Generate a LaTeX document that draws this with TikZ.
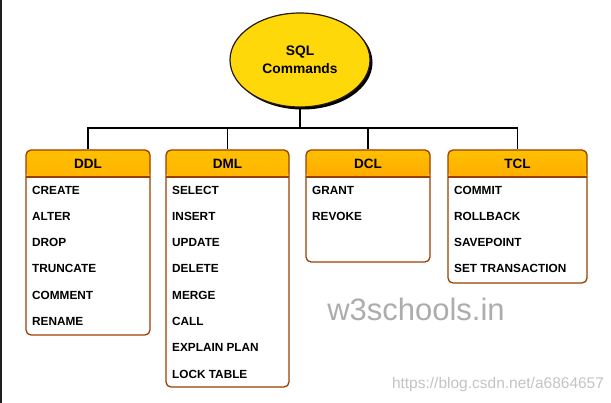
\documentclass[tikz,border=0pt]{standalone}
\usepackage{fontspec}
\setmainfont{Liberation Sans}
\usetikzlibrary{shapes.geometric,shadows}
\definecolor{boxedge}{HTML}{9A3F00}
\definecolor{hdrtop}{HTML}{FFC000}
\definecolor{hdrbot}{HTML}{FF6400}
\definecolor{ellfill}{HTML}{FFD80A}
\definecolor{wmark}{HTML}{ADADAD}
\definecolor{urlgray}{HTML}{C4C4C4}
\tikzset{
  cmdbox/.style={draw=boxedge, line width=1.3pt, rounded corners=5pt, fill=white,
    inner sep=0pt,
    path picture={\shade[top color=hdrtop, bottom color=hdrbot]
      (path picture bounding box.north west) rectangle
      ([yshift=-27pt]path picture bounding box.north east);
      \draw[boxedge, line width=1.2pt]
      ([yshift=-27pt]path picture bounding box.north west) --
      ([yshift=-27pt]path picture bounding box.north east);}},
  hdr/.style={font=\bfseries\fontsize{13.5}{15}\selectfont, inner sep=0pt},
  item/.style={font=\bfseries\fontsize{11.8}{13}\selectfont, anchor=west, inner sep=0pt},
  conn/.style={line width=1.6pt, black}
}
\begin{document}
\begin{tikzpicture}[x=1pt,y=-1pt]
\useasboundingbox (0,0) rectangle (611,403);
\fill[white] (0,0) rectangle (611,403);
\fill[black!88] (0,0) rectangle (2,403);

% root ellipse
\node[ellipse, draw=black!80!brown, line width=1.2pt, fill=ellfill,
  minimum width=140pt, minimum height=94pt, inner sep=0pt,
  drop shadow={shadow xshift=2.5pt, shadow yshift=-2.5pt, fill=black, opacity=1},
  align=center, font=\bfseries\fontsize{13.8}{18}\selectfont] (sql) at (300,60) {SQL\\Commands};

% boxes
\node[cmdbox, minimum width=124pt, minimum height=185pt] (ddl) at (88,242.5) {};
\node[cmdbox, minimum width=123pt, minimum height=237pt] (dml) at (227.5,268.5) {};
\node[cmdbox, minimum width=124pt, minimum height=112pt] (dcl) at (368,206) {};
\node[cmdbox, minimum width=139pt, minimum height=133pt] (tcl) at (517.5,216.5) {};

% headers
\node[hdr] (ddlh) at (88,164) {DDL};
\node[hdr] (dmlh) at (227.5,164) {DML};
\node[hdr] (dclh) at (368,164) {DCL};
\node[hdr] (tclh) at (517.5,164) {TCL};

% items
\foreach \t [count=\i from 0] in {CREATE,ALTER,DROP,TRUNCATE,COMMENT,RENAME}
  \node[item] (ddl\i) at (32,{190+26.3*\i}) {\t};
\foreach \t [count=\i from 0] in {SELECT,INSERT,UPDATE,DELETE,MERGE,CALL,EXPLAIN PLAN,LOCK TABLE}
  \node[item] (dml\i) at (172,{190+26.3*\i}) {\t};
\foreach \t [count=\i from 0] in {GRANT,REVOKE}
  \node[item] (dcl\i) at (312,{190+26.3*\i}) {\t};
\foreach \t [count=\i from 0] in {COMMIT,ROLLBACK,SAVEPOINT,SET TRANSACTION}
  \node[item] (tcl\i) at (454,{190+26.3*\i}) {\t};

% connectors
\coordinate (bus) at (0,128);
\draw[conn] (sql.south) -- (sql.south |- bus);
\draw[conn] (ddl.north) -- (ddl.north |- bus) -- (tcl.north |- bus) -- (tcl.north);
\draw[conn] (dml.north) -- (dml.north |- bus);
\draw[conn] (dcl.north) -- (dcl.north |- bus);

% watermarks
\node[text=wmark, font=\fontsize{31}{34}\selectfont, inner sep=0pt] (wm) at (416,309) {w3schools.in};
\node[text=urlgray, font=\fontsize{15.5}{17}\selectfont, inner sep=0pt] (url) at (498,384) {https://blog.csdn.net/a6864657};
\end{tikzpicture}
\end{document}
